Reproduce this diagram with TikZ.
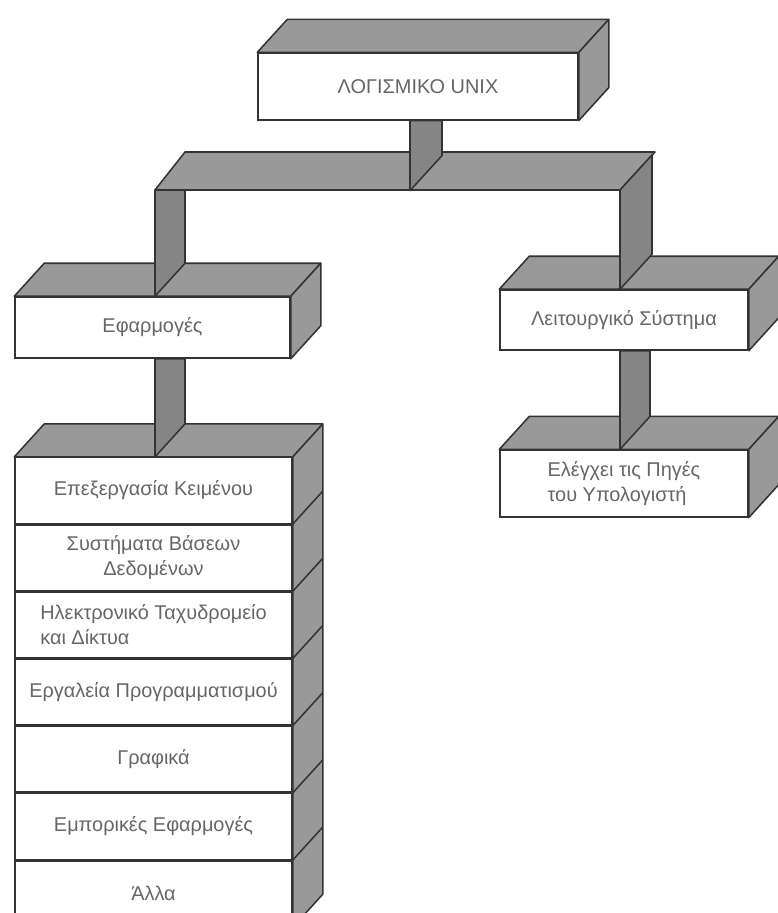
\documentclass[tikz,border=0pt]{standalone}
\usepackage{fontspec}
\setmainfont{Liberation Sans}
\usepackage{tikz}
\usetikzlibrary{positioning, calc}
\usepackage{xcolor}
\tikzset{
  front/.style={
    rectangle, draw=black!80, line width=1.3pt, fill=white,
    inner sep=2pt, align=center, text=black!60,
    font=\fontsize{17}{21}\selectfont
  },
  face/.style={draw=black!80, line width=1.3pt, fill=black!40, line join=round},
  bar/.style={face, fill=black!48},
  edge/.style={draw=black!80, line width=1.3pt}
}
% top and right faces of a slab
\newcommand{\slab}[1]{%
  \draw[face] (#1.north west) -- ++(30,-33) -- ($(#1.north east)+(30,-33)$) -- (#1.north east) -- cycle;
  \draw[face] (#1.north east) -- ++(30,-33) -- ($(#1.south east)+(30,-33)$) -- (#1.south east) -- cycle;
}

\begin{document}
\begin{tikzpicture}[x=0.03cm, y=-0.03cm]

\fill[white] (0,0) rectangle (778,913);
\useasboundingbox (0,0) rectangle (778,913);

% Slabs
\node[front, minimum width=9.6cm, minimum height=2.0cm] (top) at (418,86.5) {ΛΟΓΙΣΜΙΚΟ UNIX};
\node[front, minimum width=8.25cm, minimum height=1.83cm] (app) at (152.5,327.5) {Εφαρμογές};
\node[front, minimum width=7.44cm, minimum height=1.8cm] (os) at (624,320) {Λειτουργικό Σύστημα};
\node[front, minimum width=7.44cm, minimum height=2.0cm, align=left] (ctrl) at (624,483.5) {Ελέγχει τις Πηγές\\του Υπολογιστή};

\slab{top}
\slab{app}
\slab{os}
\slab{ctrl}

% Stack of applications
\node[front, minimum width=8.31cm, minimum height=1.97cm] (r1) at (153.5,490.5) {Επεξεργασία Κειμένου};
\node[front, minimum width=8.31cm, minimum height=1.97cm, below=0pt of r1] (r2) {Συστήματα Βάσεων\\Δεδομένων};
\node[front, minimum width=8.31cm, minimum height=1.97cm, below=0pt of r2, align=left] (r3) {Ηλεκτρονικό Ταχυδρομείο\\και Δίκτυα};
\node[front, minimum width=8.31cm, minimum height=1.97cm, below=0pt of r3] (r4) {Εργαλεία Προγραμματισμού};
\node[front, minimum width=8.31cm, minimum height=1.97cm, below=0pt of r4] (r5) {Γραφικά};
\node[front, minimum width=8.31cm, minimum height=1.97cm, below=0pt of r5] (r6) {Εμπορικές Εφαρμογές};
\node[front, minimum width=8.31cm, minimum height=1.97cm, below=0pt of r6] (r7) {Άλλα};

\draw[face] (r1.north west) -- ++(30,-33) -- ($(r1.north east)+(30,-33)$) -- (r1.north east) -- cycle;
\draw[face] (r1.north east) -- ++(30,-33) -- ($(r7.south east)+(30,-33)$) -- (r7.south east) -- cycle;
\foreach \r in {1,...,6}
  \draw[edge] (r\r.south east) -- ++(30,-33);

% Beam and posts
\coordinate (bl) at (155,190);
\coordinate (br) at (620,190);
\draw[face] (bl) -- ++(30,-38) -- ++(470,0) -- (br) -- cycle;
\draw[bar] ($(top.south)+(-8,0)$) -- ++(0,70) -- ++(32,-35) -- ++(0,-35) -- cycle;
\draw[bar] (bl) -- (bl |- app.north) -- ++(30,-33) -- ($(bl)+(30,0)$) -- cycle;
\draw[bar] (br) -- (br |- os.north) -- ++(32,-35) -- ($(br)+(32,-35)$) -- cycle;
\draw[bar] (bl |- app.south) -- (bl |- r1.north) -- ++(30,-33) -- ($(bl |- app.south)+(30,0)$) -- cycle;
\draw[bar] (br |- os.south) -- (br |- ctrl.north) -- ++(30,-33) -- ($(br |- os.south)+(30,0)$) -- cycle;

\end{tikzpicture}
\end{document}
